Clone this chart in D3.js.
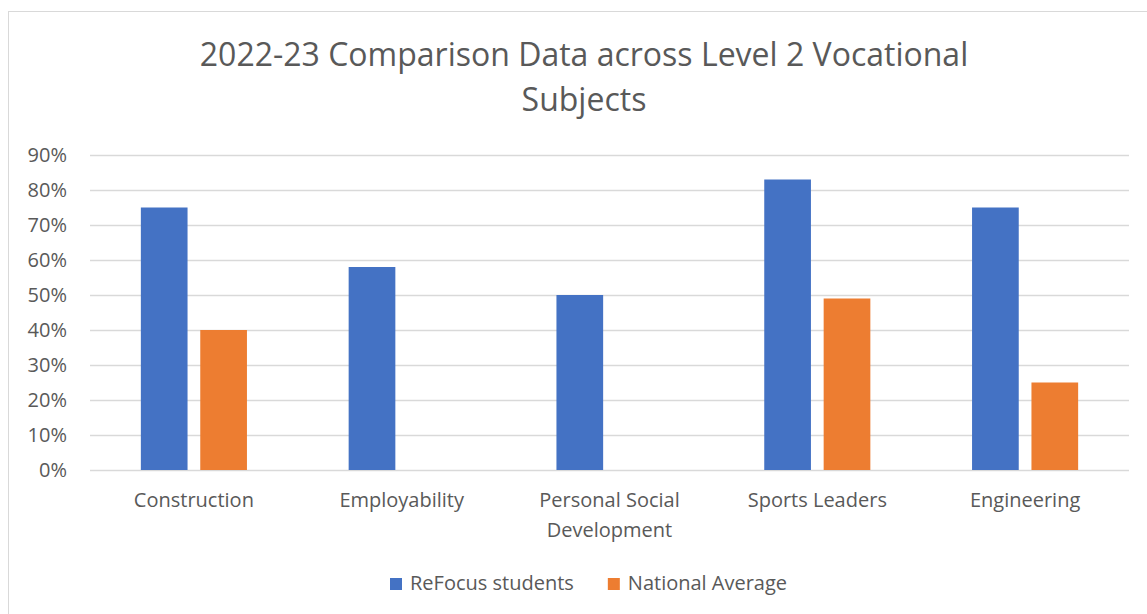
<!DOCTYPE html>
<html>
<head>
<meta charset="utf-8">
<script src="https://cdn.jsdelivr.net/npm/d3@7"></script>
<style>
  body { margin: 0; background: #fff; }
  text { font-family: "Open Sans", sans-serif; fill: #595959; }
</style>
</head>
<body>
<div id="chart"></div>
<script>
// Chart data
const categories = ["Construction", "Employability", "Personal Social Development", "Sports Leaders", "Engineering"];
const seriesNames = ["ReFocus students", "National Average"];
const refocus = [0.75, 0.58, 0.50, 0.83, 0.75];
const national = [0.40, null, null, 0.49, 0.25];
const yTicks = [0, 0.1, 0.2, 0.3, 0.4, 0.5, 0.6, 0.7, 0.8, 0.9];
const titleLines = ["2022-23 Comparison Data across Level 2 Vocational", "Subjects"];

const colors = ["#4472C4", "#ED7D31"];
const width = 1147, height = 614;
const plot = { left: 90, right: 1129, top: 155, bottom: 470 };

const svg = d3.select("#chart")
    .append("svg")
    .attr("width", width)
    .attr("height", height);

// chart border
svg.append("rect")
    .attr("x", 8.5).attr("y", 11.5)
    .attr("width", width + 10).attr("height", height + 10)
    .attr("fill", "none")
    .attr("stroke", "#D9D9D9");

// title
svg.append("g").selectAll("text")
    .data(titleLines)
    .join("text")
    .attr("x", 584)
    .attr("y", (d, i) => 66 + i * 45)
    .attr("text-anchor", "middle")
    .attr("font-size", 32)
    .text(d => d);

const x0 = d3.scaleBand()
    .domain(categories)
    .range([plot.left, plot.right]);

const x1 = d3.scaleBand()
    .domain(seriesNames)
    .range([0, x0.bandwidth()])
    .paddingInner(0.214)
    .paddingOuter(0.856);

const y = d3.scaleLinear()
    .domain([0, 0.9])
    .range([plot.bottom, plot.top]);

// gridlines
svg.append("g")
    .selectAll("line")
    .data(yTicks)
    .join("line")
    .attr("x1", plot.left)
    .attr("x2", plot.right)
    .attr("y1", d => Math.round(y(d)) + 0.5)
    .attr("y2", d => Math.round(y(d)) + 0.5)
    .attr("stroke", "#D9D9D9")
    .attr("stroke-width", 1.6);

// y axis labels
const yAxis = svg.append("g")
    .attr("transform", `translate(${plot.left},0)`)
    .call(d3.axisLeft(y).tickValues(yTicks).tickFormat(d3.format(".0%")).tickSize(0).tickPadding(23));
yAxis.select(".domain").remove();
yAxis.selectAll("text")
    .attr("font-size", 20)
    .attr("font-family", "Open Sans, sans-serif")
    .style("fill", "#595959");

// bars
const rows = categories.map((c, i) => ({ cat: c, values: [refocus[i], national[i]] }));

svg.append("g")
    .selectAll("g")
    .data(rows)
    .join("g")
    .attr("transform", d => `translate(${x0(d.cat)},0)`)
    .selectAll("rect")
    .data(d => d.values.map((v, j) => ({ name: seriesNames[j], value: v, j })).filter(e => e.value != null))
    .join("rect")
    .attr("x", d => x1(d.name))
    .attr("width", x1.bandwidth())
    .attr("y", d => y(d.value))
    .attr("height", d => y(0) - y(d.value))
    .attr("fill", d => colors[d.j]);

// x axis labels
const xAxis = svg.append("g")
    .attr("transform", `translate(0,${plot.bottom})`)
    .call(d3.axisBottom(x0).tickSize(0).tickPadding(23));
xAxis.select(".domain").remove();
xAxis.selectAll("text")
    .attr("font-size", 20)
    .attr("font-family", "Open Sans, sans-serif")
    .style("fill", "#595959")
    .call(wrap, 190);

function wrap(texts, maxWidth) {
    texts.each(function () {
        const text = d3.select(this);
        const words = text.text().split(/\s+/);
        const yPos = text.attr("y");
        const dy = parseFloat(text.attr("dy")) || 0;
        let line = [];
        let lineNo = 0;
        let tspan = text.text(null).append("tspan").attr("x", 0).attr("y", yPos).attr("dy", dy + "em");
        words.forEach(w => {
            line.push(w);
            tspan.text(line.join(" "));
            if (tspan.node().getComputedTextLength() > maxWidth && line.length > 1) {
                line.pop();
                tspan.text(line.join(" "));
                line = [w];
                lineNo++;
                tspan = text.append("tspan").attr("x", 0).attr("y", yPos)
                    .attr("dy", (lineNo * 1.5 + dy) + "em").text(w);
            }
        });
    });
}

// legend
const legend = svg.append("g");
const items = legend.selectAll("g")
    .data(seriesNames)
    .join("g");
items.append("rect")
    .attr("width", 12).attr("height", 12)
    .attr("y", -12)
    .attr("fill", (d, i) => colors[i]);
items.append("text")
    .attr("x", 20)
    .attr("font-size", 20)
    .text(d => d);
let offset = 0;
items.each(function () {
    const w = this.getBBox().width;
    d3.select(this).attr("transform", `translate(${offset},0)`);
    offset += w + 34;
});
const legendWidth = offset - 34;
legend.attr("transform", `translate(${Math.round(589 - legendWidth / 2)},590)`);
</script>
</body>
</html>
